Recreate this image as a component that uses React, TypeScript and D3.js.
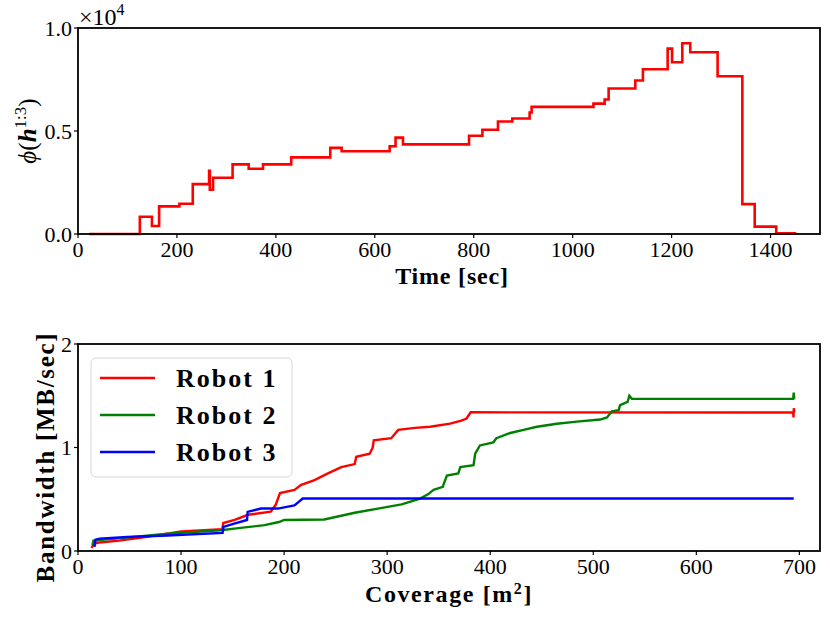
import React, { useEffect, useRef } from 'react'
import * as d3 from 'd3'

// top panel: potential phi(h^{1:3}) over time, step-after
const timeSec = [23, 125, 149.5, 164, 205, 232, 265, 266.5, 273, 312.5, 345, 374, 431, 510, 533, 630, 642, 657, 790.5, 817.5, 849, 878, 913, 917, 1042, 1064.6, 1072.7, 1126.6, 1142, 1192, 1201, 1221.6, 1237.7, 1293, 1343, 1368, 1411.5, 1452]
const phiValue = [0, 840, 390, 1340, 1470, 2420, 3070, 2150, 2730, 3380, 3170, 3380, 3720, 4180, 4020, 4260, 4680, 4350, 4770, 5060, 5460, 5610, 5900, 6170, 6330, 6530, 7060, 7450, 8000, 9000, 8340, 9260, 8820, 7660, 1450, 360, 30, 30]
const timeTicks = [0, 200, 400, 600, 800, 1000, 1200, 1400]
const phiTicks = [0, 5000, 10000]

// bottom panel: bandwidth vs coverage
const robot1Coverage = [13, 15, 18.5, 40, 67, 100, 140, 141, 152, 165, 187, 192, 196, 210, 216.6, 229.5, 242.5, 255.5, 268.5, 270, 283, 286, 287, 304, 310.7, 327, 341.7, 361, 372, 377, 381, 694, 694.3, 694.6, 695]
const robot1Bandwidth = [0.03, 0.06, 0.08, 0.1, 0.136, 0.19, 0.21, 0.27, 0.3, 0.35, 0.38, 0.45, 0.56, 0.59, 0.64, 0.685, 0.75, 0.81, 0.84, 0.91, 0.94, 1.0, 1.07, 1.09, 1.17, 1.19, 1.2, 1.23, 1.26, 1.28, 1.34, 1.338, 1.29, 1.38, 1.338]
const robot2Coverage = [14, 15, 54, 86.7, 138.6, 151.6, 181, 195, 200, 239, 268.5, 291, 314, 332, 340, 345, 354, 355, 358, 369, 371, 383.8, 385.4, 390, 403, 406, 419.4, 432.4, 445.3, 464.7, 484, 506.8, 513.3, 518, 524.6, 526, 533.3, 535, 537.5, 694, 694.5, 695]
const robot2Bandwidth = [0.055, 0.1, 0.136, 0.168, 0.2, 0.216, 0.25, 0.28, 0.3, 0.305, 0.37, 0.41, 0.45, 0.507, 0.55, 0.59, 0.62, 0.65, 0.73, 0.75, 0.81, 0.83, 0.94, 1.02, 1.05, 1.09, 1.14, 1.17, 1.2, 1.23, 1.25, 1.27, 1.29, 1.35, 1.36, 1.41, 1.44, 1.5, 1.47, 1.47, 1.53, 1.47]
const robot3Coverage = [16, 17, 21, 47.7, 86.7, 140.3, 141.2, 151.6, 164, 164.6, 177.6, 193.8, 210, 213, 218, 694.5]
const robot3Bandwidth = [0.04, 0.11, 0.12, 0.135, 0.15, 0.175, 0.233, 0.265, 0.3, 0.378, 0.41, 0.41, 0.44, 0.465, 0.507, 0.507]
const coverageTicks = [0, 100, 200, 300, 400, 500, 600, 700]
const bandwidthTicks = [0, 1, 2]

const robots = [
  { name: 'Robot 1', color: '#ff0000', xs: robot1Coverage, ys: robot1Bandwidth },
  { name: 'Robot 2', color: '#008000', xs: robot2Coverage, ys: robot2Bandwidth },
  { name: 'Robot 3', color: '#0000ff', xs: robot3Coverage, ys: robot3Bandwidth },
]

const SERIF = '"Liberation Serif", "Times New Roman", serif'

export default function App() {
  const svgRef = useRef<SVGSVGElement>(null)

  useEffect(() => {
    if (!svgRef.current) return
    const svg = d3.select(svgRef.current)
    svg.selectAll('*').remove()

    const left = 78
    const right = 820

    // shared axis drawing (matplotlib look: short outward ticks, heavy frame)
    function frame(g: any, x: any, y: any, xt: number[], yt: number[], yFmt: (d: number) => string, top: number, bottom: number) {
      g.selectAll('line.xt').data(xt).enter().append('line')
        .attr('x1', (d: number) => x(d)).attr('x2', (d: number) => x(d))
        .attr('y1', bottom).attr('y2', bottom + 4)
        .attr('stroke', '#000').attr('stroke-width', 1.2)
      g.selectAll('text.xl').data(xt).enter().append('text')
        .attr('x', (d: number) => x(d)).attr('y', bottom + 23)
        .attr('text-anchor', 'middle')
        .style('font-family', SERIF).style('font-size', '22px')
        .text((d: number) => String(d))
      g.selectAll('line.yt').data(yt).enter().append('line')
        .attr('x1', left - 4).attr('x2', left)
        .attr('y1', (d: number) => y(d)).attr('y2', (d: number) => y(d))
        .attr('stroke', '#000').attr('stroke-width', 1.2)
      g.selectAll('text.yl').data(yt).enter().append('text')
        .attr('x', left - 6).attr('y', (d: number) => y(d))
        .attr('dy', '0.35em')
        .attr('text-anchor', 'end')
        .style('font-family', SERIF).style('font-size', '22px')
        .text(yFmt)
      g.append('rect')
        .attr('x', left).attr('y', top)
        .attr('width', right - left).attr('height', bottom - top)
        .attr('fill', 'none').attr('stroke', '#000').attr('stroke-width', 1.8)
    }

    // ---------- top panel ----------
    const t0 = 28, t1 = 234
    const xTime = d3.scaleLinear().domain([0, 1500]).range([left, right])
    const yPhi = d3.scaleLinear().domain([0, 10000]).range([t1, t0])
    const topG = svg.append('g')

    const phiLine = d3.line<number>()
      .x((_, i) => xTime(timeSec[i]))
      .y(d => yPhi(d))
      .curve(d3.curveStepAfter)
    topG.append('path')
      .attr('d', phiLine(phiValue))
      .attr('fill', 'none').attr('stroke', '#ff0000').attr('stroke-width', 2.6)
      .attr('stroke-linejoin', 'miter')

    frame(topG, xTime, yPhi, timeTicks, phiTicks, d => (d / 10000).toFixed(1), t0, t1)

    const off = topG.append('text').attr('x', 79).attr('y', 25)
      .style('font-family', SERIF).style('font-size', '24px')
    off.append('tspan').text('×10')
    off.append('tspan').attr('dy', -10).style('font-size', '16px').text('4')

    topG.append('text')
      .attr('x', (left + right) / 2 + 3).attr('y', 284)
      .attr('text-anchor', 'middle')
      .style('font-family', SERIF).style('font-size', '24px').style('font-weight', 'bold')
      .style('letter-spacing', '0.8px')
      .text('Time [sec]')

    const yl = topG.append('text')
      .attr('transform', `translate(36,${(t0 + t1) / 2}) rotate(-90)`)
      .attr('text-anchor', 'middle')
      .style('font-family', SERIF).style('font-size', '25px')
    yl.append('tspan').style('font-style', 'italic').text('ϕ')
    yl.append('tspan').text('(')
    yl.append('tspan').style('font-style', 'italic').style('font-weight', 'bold').text('h')
    yl.append('tspan').attr('dy', -10).style('font-size', '17px').text('1:3')
    yl.append('tspan').attr('dy', 10).text(')')

    // ---------- bottom panel ----------
    const b0 = 344, b1 = 551
    const xCov = d3.scaleLinear().domain([0, 720]).range([left, right])
    const yBw = d3.scaleLinear().domain([0, 2]).range([b1, b0])
    const botG = svg.append('g')

    robots.forEach(r => {
      const line = d3.line<number>()
        .x((_, i) => xCov(r.xs[i]))
        .y(d => yBw(d))
      botG.append('path')
        .attr('d', line(r.ys))
        .attr('fill', 'none').attr('stroke', r.color).attr('stroke-width', 2.4)
    })

    frame(botG, xCov, yBw, coverageTicks, bandwidthTicks, d => String(d), b0, b1)

    const xl = botG.append('text')
      .attr('x', (left + right) / 2).attr('y', 602)
      .attr('text-anchor', 'middle')
      .style('font-family', SERIF).style('font-size', '24px').style('font-weight', 'bold')
      .style('letter-spacing', '1.6px')
    xl.append('tspan').text('Coverage [m')
    xl.append('tspan').attr('dy', -8).style('font-size', '16px').text('2')
    xl.append('tspan').attr('dy', 8).text(']')

    botG.append('text')
      .attr('transform', `translate(54,457) rotate(-90)`)
      .attr('text-anchor', 'middle')
      .style('font-family', SERIF).style('font-size', '25px').style('font-weight', 'bold')
      .style('letter-spacing', '1.7px')
      .text('Bandwidth [MB/sec]')

    // legend
    const lg = botG.append('g')
    lg.append('rect')
      .attr('x', 91).attr('y', 358).attr('width', 201).attr('height', 119)
      .attr('rx', 5)
      .attr('fill', 'rgba(255,255,255,0.8)').attr('stroke', '#d6d6d6').attr('stroke-width', 1)
    robots.forEach((r, i) => {
      const yy = 378 + i * 37
      lg.append('line')
        .attr('x1', 100).attr('x2', 155).attr('y1', yy).attr('y2', yy)
        .attr('stroke', r.color).attr('stroke-width', 2.4)
      lg.append('text')
        .attr('x', 176).attr('y', yy).attr('dy', '0.33em')
        .style('font-family', SERIF).style('font-size', '26px').style('font-weight', 'bold')
        .style('letter-spacing', '2px')
        .text(r.name)
    })
  }, [])

  return (
    <svg
      ref={svgRef}
      width={830}
      height={619}
      style={{ position: 'absolute', left: 0, top: 0, background: '#fff' }}
    />
  )
}
